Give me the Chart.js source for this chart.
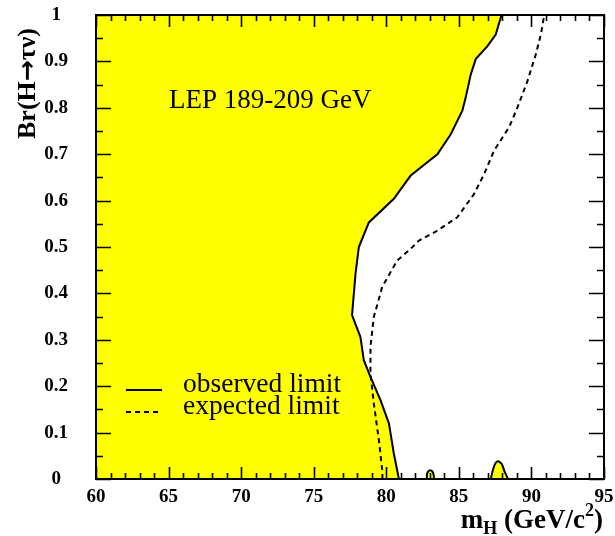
<!DOCTYPE html>
<html>
<head>
<meta charset="utf-8">
<script src="https://cdn.jsdelivr.net/npm/chart.js@4/dist/chart.umd.min.js"></script>
<style>
  html, body { margin: 0; padding: 0; background: #ffffff; }
  #wrap { width: 615px; height: 536px; position: relative; }
</style>
</head>
<body>
<div id="wrap"><canvas id="c"></canvas></div>
<script>
// ---- data ----
const observedMass = [80.87, 80.52, 80.18, 79.60, 78.91, 78.45, 78.22, 77.64, 77.88, 78.11, 78.80, 80.52, 81.68, 83.52, 84.44, 85.24, 85.47, 85.82, 86.16, 86.97, 87.54, 87.94];
const observedBr   = [0.000, 0.055, 0.120, 0.170, 0.220, 0.256, 0.306, 0.353, 0.442, 0.500, 0.553, 0.604, 0.654, 0.700, 0.743, 0.794, 0.822, 0.872, 0.905, 0.933, 0.958, 1.000];

const expectedMass = [79.74, 79.72, 79.49, 79.14, 78.91, 78.91, 79.14, 79.72, 80.75, 81.68, 82.25, 83.51, 84.89, 86.04, 86.74, 87.43, 88.46, 89.04, 89.73, 90.30, 90.65, 90.88];
const expectedBr   = [0.000, 0.019, 0.084, 0.163, 0.227, 0.285, 0.349, 0.414, 0.471, 0.496, 0.514, 0.535, 0.564, 0.614, 0.657, 0.708, 0.758, 0.801, 0.858, 0.915, 0.958, 1.000];

// small excluded islands near Br = 0
const island1Mass = [82.80, 82.80, 82.88, 83.03, 83.18, 83.27, 83.25, 82.80];
const island1Br   = [0.000, 0.009, 0.016, 0.019, 0.016, 0.008, 0.000, 0.000];
const island2Mass = [87.20, 87.35, 87.52, 87.70, 87.95, 88.15, 88.35, 87.20];
const island2Br   = [0.000, 0.020, 0.034, 0.038, 0.033, 0.016, 0.000, 0.000];

const xTickLabels = ['60', '65', '70', '75', '80', '85', '90', '95'];
const yTickLabels = ['0', '0.1', '0.2', '0.3', '0.4', '0.5', '0.6', '0.7', '0.8', '0.9', '1'];

const titleText = 'LEP 189-209 GeV';
const legendObserved = 'observed limit';
const legendExpected = 'expected limit';

// ---- build points ----
const pts = (xs, ys) => xs.map((x, i) => ({ x: x, y: ys[i] }));
const observedPts = pts(observedMass, observedBr);
const expectedPts = pts(expectedMass, expectedBr);
const excludedRegion = [{ x: 60, y: 0 }].concat(observedPts, [{ x: 60, y: 1 }, { x: 60, y: 0 }]);

const YELLOW = '#ffff00';
const SERIF = '"Liberation Serif", "Times New Roman", serif';

const framePlugin = {
  id: 'frameAndText',
  afterDatasetsDraw(chart) {
    const ctx = chart.ctx;
    const xs = chart.scales.x, ys = chart.scales.y;
    const a = chart.chartArea;
    ctx.save();
    ctx.strokeStyle = '#000';
    ctx.lineWidth = 1.6;
    ctx.beginPath();
    for (let v = 60; v <= 95; v += 1) {
      const px = Math.round(xs.getPixelForValue(v)) + 0.5;
      const len = (v % 5 === 0) ? 12 : 6;
      ctx.moveTo(px, a.bottom); ctx.lineTo(px, a.bottom - len);
      ctx.moveTo(px, a.top); ctx.lineTo(px, a.top + len);
    }
    for (let k = 0; k <= 20; k++) {
      const py = Math.round(ys.getPixelForValue(k * 0.05)) + 0.5;
      const len = (k % 2 === 0) ? 15 : 7;
      ctx.moveTo(a.left, py); ctx.lineTo(a.left + len, py);
      ctx.moveTo(a.right, py); ctx.lineTo(a.right - len, py);
    }
    ctx.stroke();
    ctx.lineWidth = 2;
    ctx.strokeRect(a.left, a.top, a.right - a.left, a.bottom - a.top);
    ctx.restore();
  },
  afterDraw(chart) {
    const ctx = chart.ctx;
    ctx.save();
    ctx.fillStyle = '#000';
    ctx.textBaseline = 'alphabetic';
    ctx.font = '27px ' + SERIF;
    ctx.textAlign = 'left';
    ctx.fillText(titleText, 169, 108);
    ctx.font = '27.5px ' + SERIF;
    ctx.fillText(legendObserved, 183, 392);
    ctx.fillText(legendExpected, 183, 414);
    ctx.strokeStyle = '#000';
    ctx.lineWidth = 2;
    ctx.beginPath(); ctx.moveTo(126, 390); ctx.lineTo(162, 390); ctx.stroke();
    ctx.setLineDash([5, 4]);
    ctx.beginPath(); ctx.moveTo(126, 412); ctx.lineTo(162, 412); ctx.stroke();
    ctx.setLineDash([]);
    // y axis title (rotated)
    ctx.save();
    ctx.translate(35, 139);
    ctx.rotate(-Math.PI / 2);
    ctx.textAlign = 'left';
    const yparts = [
      { t: 'Br(H', f: 'bold 26px ' + SERIF },
      { t: '\u2192', f: 'bold 25px "DejaVu Sans", sans-serif' },
      { t: '\u03C4\u03BD)', f: 'bold 26px ' + SERIF }
    ];
    let yx = 0;
    yparts.forEach(p => { ctx.font = p.f; ctx.fillText(p.t, yx, 0); yx += ctx.measureText(p.t).width; });
    ctx.restore();
    // x axis title, right aligned: m_H (GeV/c^2)
    const big = 'bold 27px ' + SERIF, small = 'bold 18px ' + SERIF;
    const parts = [
      { t: 'm', f: big, dy: 0 },
      { t: 'H', f: small, dy: 6 },
      { t: ' (GeV/c', f: big, dy: 0 },
      { t: '2', f: small, dy: -12 },
      { t: ')', f: big, dy: 0 }
    ];
    let total = 0;
    parts.forEach(p => { ctx.font = p.f; p.w = ctx.measureText(p.t).width; total += p.w; });
    let x = 603 - total;
    const base = 528;
    parts.forEach(p => { ctx.font = p.f; ctx.fillText(p.t, x, base + p.dy); x += p.w; });
    ctx.restore();
  }
};

const zeroPad = s => { s.paddingTop = 0; s.paddingBottom = 0; s.paddingLeft = 0; s.paddingRight = 0; };

new Chart(document.getElementById('c'), {
  type: 'scatter',
  data: {
    datasets: [
      { label: 'excluded', data: excludedRegion, showLine: true, fill: 'shape', backgroundColor: YELLOW, borderWidth: 0, borderColor: 'rgba(0,0,0,0)', pointRadius: 0, tension: 0, order: 10 },
      { label: 'island1', data: pts(island1Mass, island1Br), showLine: true, fill: 'shape', backgroundColor: YELLOW, borderColor: '#000', borderWidth: 2, pointRadius: 0, tension: 0.3, order: 5 },
      { label: 'island2', data: pts(island2Mass, island2Br), showLine: true, fill: 'shape', backgroundColor: YELLOW, borderColor: '#000', borderWidth: 2, pointRadius: 0, tension: 0.2, order: 5 },
      { label: 'observed limit', data: observedPts, showLine: true, fill: false, borderColor: '#000', borderWidth: 2, pointRadius: 0, tension: 0, order: 1 },
      { label: 'expected limit', data: expectedPts, showLine: true, fill: false, borderColor: '#000', borderWidth: 2, borderDash: [5, 4], pointRadius: 0, tension: 0, order: 1 }
    ]
  },
  options: {
    responsive: true,
    maintainAspectRatio: false,
    animation: false,
    layout: { autoPadding: false, padding: { left: 0, right: 11, top: 15, bottom: 0 } },
    plugins: { legend: { display: false }, title: { display: false }, tooltip: { enabled: false } },
    scales: {
      x: {
        type: 'linear', min: 60, max: 95,
        grid: { display: false, drawTicks: false },
        border: { display: false },
        afterFit: s => { s.height = 57; zeroPad(s); },
        afterBuildTicks: s => { s.ticks = xTickLabels.map(v => ({ value: Number(v) })); },
        ticks: {
          color: '#000', padding: 7, maxRotation: 0, autoSkip: false,
          font: { family: SERIF, size: 19, weight: 'bold' },
          callback: (v) => xTickLabels[xTickLabels.indexOf(String(v))] ?? ''
        }
      },
      y: {
        type: 'linear', min: 0, max: 1,
        grid: { display: false, drawTicks: false },
        border: { display: false },
        afterFit: s => { s.width = 96; zeroPad(s); },
        afterBuildTicks: s => { s.ticks = yTickLabels.map(v => ({ value: Number(v) })); },
        ticks: {
          color: '#000', padding: 28, crossAlign: 'center', autoSkip: false,
          font: { family: SERIF, size: 19, weight: 'bold' },
          callback: (v, i) => yTickLabels[i]
        }
      }
    }
  },
  plugins: [framePlugin]
});
</script>
</body>
</html>
